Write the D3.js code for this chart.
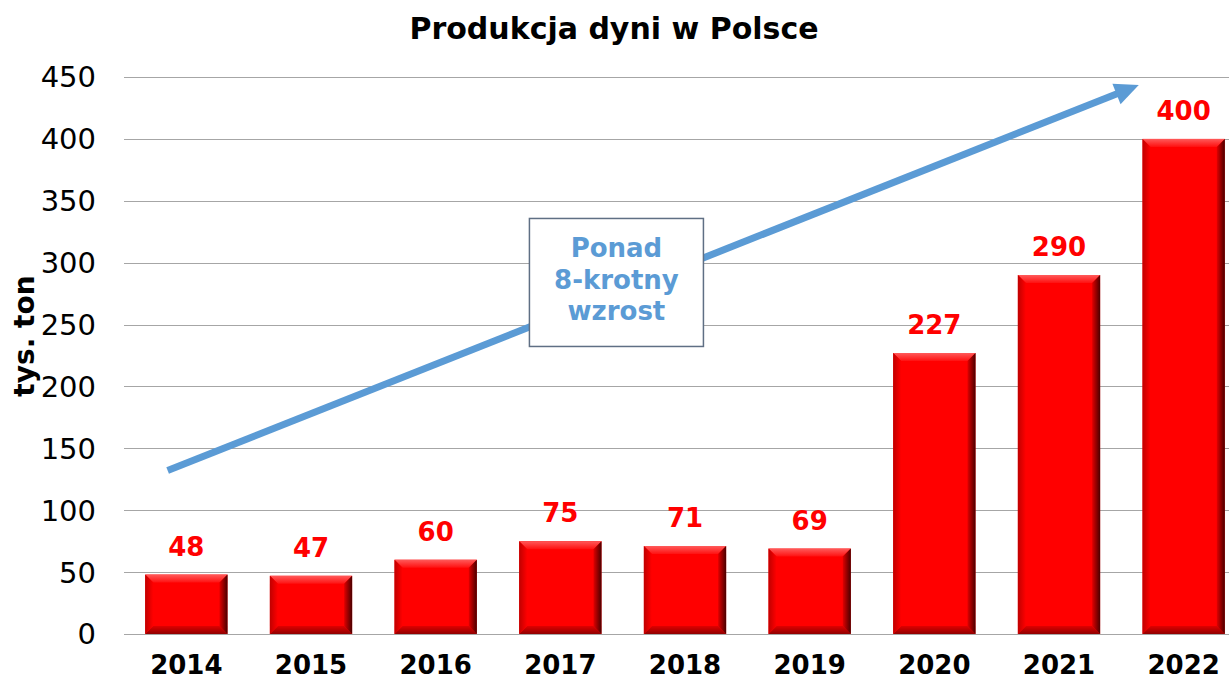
<!DOCTYPE html>
<html>
<head>
<meta charset="utf-8">
<script src="https://cdn.jsdelivr.net/npm/d3@7"></script>
<style>
  body { margin: 0; background: #fff; }
  text { font-family: Verdana, "DejaVu Sans", sans-serif; }
</style>
</head>
<body>
<svg id="chart" width="1229" height="679"></svg>
<script>
const years = ["2014", "2015", "2016", "2017", "2018", "2019", "2020", "2021", "2022"];
const production = [48, 47, 60, 75, 71, 69, 227, 290, 400];
const yTicks = [0, 50, 100, 150, 200, 250, 300, 350, 400, 450];
const noteLines = ["Ponad", "8-krotny", "wzrost"];

const margin = { top: 77, right: -17, bottom: 45, left: 124 };
const width = 1229, height = 679;

const svg = d3.select("#chart");

const x = d3.scaleBand()
    .domain(years)
    .range([margin.left, width - margin.right])
    .paddingInner(0.34)
    .paddingOuter(0.17);

const y = d3.scaleLinear()
    .domain([0, 450])
    .range([height - margin.bottom, margin.top]);

// index scale for annotation placement (bar centers)
const xi = d3.scaleLinear()
    .domain([0, years.length - 1])
    .range([x(years[0]) + x.bandwidth() / 2, x(years[years.length - 1]) + x.bandwidth() / 2]);

const defs = svg.append("defs");

const rightGrad = defs.append("linearGradient").attr("id", "bevelRight")
    .attr("x1", "0").attr("x2", "1").attr("y1", "0").attr("y2", "0");
rightGrad.append("stop").attr("offset", "0").attr("stop-color", "#e00000");
rightGrad.append("stop").attr("offset", "1").attr("stop-color", "#4a0000");

const topGrad = defs.append("linearGradient").attr("id", "bevelTop")
    .attr("x1", "0").attr("x2", "0").attr("y1", "0").attr("y2", "1");
topGrad.append("stop").attr("offset", "0").attr("stop-color", "#ff5a5a");
topGrad.append("stop").attr("offset", "1").attr("stop-color", "#ff1010");

const bottomGrad = defs.append("linearGradient").attr("id", "bevelBottom")
    .attr("x1", "0").attr("x2", "0").attr("y1", "0").attr("y2", "1");
bottomGrad.append("stop").attr("offset", "0").attr("stop-color", "#e00000");
bottomGrad.append("stop").attr("offset", "1").attr("stop-color", "#900000");

const leftGrad = defs.append("linearGradient").attr("id", "bevelLeft")
    .attr("x1", "0").attr("x2", "1").attr("y1", "0").attr("y2", "0");
leftGrad.append("stop").attr("offset", "0").attr("stop-color", "#c00000");
leftGrad.append("stop").attr("offset", "1").attr("stop-color", "#ff0000");

// gridlines
svg.append("g")
    .selectAll("line")
    .data(yTicks)
    .join("line")
    .attr("x1", margin.left)
    .attr("x2", width)
    .attr("y1", d => Math.round(y(d)) + 0.5)
    .attr("y2", d => Math.round(y(d)) + 0.5)
    .attr("stroke", "#a6a6a6")
    .attr("stroke-width", 1.2);

// y axis labels
svg.append("g")
    .selectAll("text")
    .data(yTicks)
    .join("text")
    .attr("x", 96)
    .attr("y", d => y(d))
    .attr("dy", "0.36em")
    .attr("text-anchor", "end")
    .style("font-size", "29px")
    .attr("fill", "#000")
    .text(d => d);

// y axis title
svg.append("text")
    .attr("transform", `translate(34, 336) rotate(-90)`)
    .attr("text-anchor", "middle")
    .style("font-size", "28px")
    .style("font-weight", "bold")
    .text("tys. ton");

// title
svg.append("text")
    .attr("x", 614)
    .attr("y", 39)
    .attr("text-anchor", "middle")
    .style("font-size", "30px")
    .style("font-weight", "bold")
    .text("Produkcja dyni w Polsce");

// bars with bevel
const bev = 8;
const bars = svg.append("g")
    .selectAll("g")
    .data(years.map((yr, i) => ({ year: yr, value: production[i] })))
    .join("g")
    .attr("class", "bar");

bars.append("rect")
    .attr("x", d => x(d.year))
    .attr("y", d => y(d.value))
    .attr("width", x.bandwidth())
    .attr("height", d => y(0) - y(d.value))
    .attr("fill", "#ff0000");

const poly = (pts) => pts.map(p => p.join(",")).join(" ");

bars.append("polygon")
    .attr("points", d => {
        const x0 = x(d.year), x1 = x0 + x.bandwidth(), t = y(d.value);
        return poly([[x0, t], [x1, t], [x1 - bev, t + bev], [x0 + bev, t + bev]]);
    })
    .attr("fill", "url(#bevelTop)");

bars.append("polygon")
    .attr("points", d => {
        const x0 = x(d.year), x1 = x0 + x.bandwidth(), b = y(0);
        return poly([[x0, b], [x1, b], [x1 - bev, b - bev], [x0 + bev, b - bev]]);
    })
    .attr("fill", "url(#bevelBottom)");

bars.append("polygon")
    .attr("points", d => {
        const x0 = x(d.year), t = y(d.value), b = y(0);
        return poly([[x0, t], [x0 + bev, t + bev], [x0 + bev, b - bev], [x0, b]]);
    })
    .attr("fill", "url(#bevelLeft)");

bars.append("polygon")
    .attr("points", d => {
        const x1 = x(d.year) + x.bandwidth(), t = y(d.value), b = y(0);
        return poly([[x1, t], [x1 - bev, t + bev], [x1 - bev, b - bev], [x1, b]]);
    })
    .attr("fill", "url(#bevelRight)");

// value labels
svg.append("g")
    .selectAll("text")
    .data(years.map((yr, i) => ({ year: yr, value: production[i] })))
    .join("text")
    .attr("x", d => x(d.year) + x.bandwidth() / 2)
    .attr("y", d => y(d.value) - 19)
    .attr("text-anchor", "middle")
    .style("font-size", "26px")
    .style("font-weight", "bold")
    .attr("fill", "#ff0000")
    .text(d => d.value);

// x labels
svg.append("g")
    .selectAll("text")
    .data(years)
    .join("text")
    .attr("x", d => x(d) + x.bandwidth() / 2)
    .attr("y", 674)
    .attr("text-anchor", "middle")
    .style("font-size", "26px")
    .style("font-weight", "bold")
    .text(d => d);

// arrow annotation
const arrowStart = { i: -0.15, v: 132 };
const arrowEnd = { i: 7.64, v: 443.5 };
const ax0 = xi(arrowStart.i), ay0 = y(arrowStart.v);
const ax1 = xi(arrowEnd.i), ay1 = y(arrowEnd.v);
const ang = Math.atan2(ay1 - ay0, ax1 - ax0);
const headLen = 24, headW = 11;
const bx = ax1 - headLen * Math.cos(ang), by = ay1 - headLen * Math.sin(ang);

svg.append("line")
    .attr("x1", ax0).attr("y1", ay0)
    .attr("x2", bx + 2 * Math.cos(ang)).attr("y2", by + 2 * Math.sin(ang))
    .attr("stroke", "#5b9bd5")
    .attr("stroke-width", 7);

svg.append("polygon")
    .attr("points", poly([
        [ax1, ay1],
        [bx + headW * Math.sin(ang), by - headW * Math.cos(ang)],
        [bx - headW * Math.sin(ang), by + headW * Math.cos(ang)]
    ]))
    .attr("fill", "#5b9bd5");

// note box
const noteCx = xi(3.45), noteCy = y(284);
const boxW = 174, boxH = 128;
svg.append("rect")
    .attr("x", noteCx - boxW / 2)
    .attr("y", noteCy - boxH / 2)
    .attr("width", boxW)
    .attr("height", boxH)
    .attr("fill", "#fff")
    .attr("stroke", "#5f6f84")
    .attr("stroke-width", 1.5);

svg.append("g")
    .selectAll("text")
    .data(noteLines)
    .join("text")
    .attr("x", noteCx)
    .attr("y", (d, i) => noteCy - 25 + i * 31.5)
    .attr("text-anchor", "middle")
    .style("font-size", "26px")
    .style("font-weight", "bold")
    .attr("fill", "#5b9bd5")
    .text(d => d);
</script>
</body>
</html>
